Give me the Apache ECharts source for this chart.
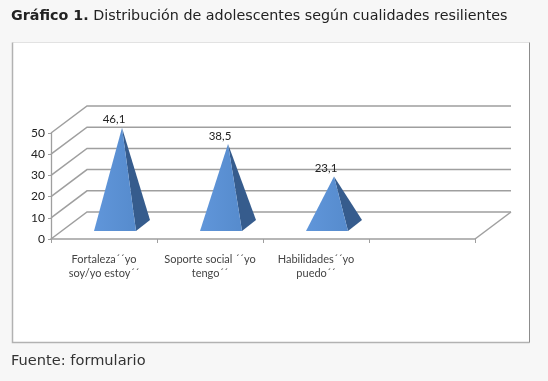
<!DOCTYPE html>
<html>
<head>
<meta charset="utf-8">
<style>
  html, body { margin: 0; padding: 0; background: #f7f7f7; }
  #chart { width: 548px; height: 381px; }
</style>
<script src="https://cdn.jsdelivr.net/npm/echarts@6/dist/echarts.min.js"></script>
</head>
<body>
<div id="chart"></div>
<script>
"use strict";
var categories = ["Fortaleza´´yo\nsoy/yo estoy´´", "Soporte social ´´yo\ntengo´´", "Habilidades´´yo\npuedo´´", ""];
var values = [46.1, 38.5, 23.1];
var valueLabels = ["46,1", "38,5", "23,1"];
var yTicks = [0, 10, 20, 30, 40, 50];

// fake 3d depth of the floor, in pixels
var depthX = 36;
var depthY = -27;
var lineColor = "#9f9f9f";
var labelFont = "Lato";

var myChart = echarts.init(document.getElementById("chart"), null, { renderer: "canvas" });

//walls: one line per tick, side wall then back wall
function renderWall(params, api) {
  var grid = params.coordSys;
  var v = api.value(0);
  var p = api.coord([0, v]);
  var left = grid.x;
  var right = grid.x + grid.width;
  var children = [];
  children.push({
    type: "polyline",
    shape: { points: [[left, p[1]], [left + depthX, p[1] + depthY], [right + depthX, p[1] + depthY]] },
    style: { stroke: lineColor, lineWidth: 1.5, fill: null }
  });
  if (v === 0) {
    children.push({
      type: "line",
      shape: { x1: right, y1: p[1], x2: right + depthX, y2: p[1] + depthY },
      style: { stroke: lineColor, lineWidth: 1.5 }
    });
  }
  return { type: "group", children: children };
}

//pyramids: front face and dark side face
function renderPyramid(params, api) {
  var i = api.value(0);
  var base = api.coord([i, 0]);
  var top = api.coord([i, api.value(1)]);
  var apex = [base[0] + 18, top[1] + depthY / 2];
  var frontLeft = [base[0] - 10, base[1] - 8];
  var frontRight = [base[0] + 32, base[1] - 8];
  var backRight = [base[0] + 46, base[1] - 19];
  return {
    type: "group",
    children: [
      {
        type: "polygon",
        shape: { points: [apex, frontRight, backRight] },
        style: { fill: "#365c8d" }
      },
      {
        type: "polygon",
        shape: { points: [apex, frontLeft, frontRight] },
        style: {
          fill: new echarts.graphic.LinearGradient(0, 0, 1, 0, [
            { offset: 0, color: "#6096da" },
            { offset: 1, color: "#568bcd" }
          ])
        }
      },
      {
        type: "text",
        style: {
          x: base[0] + 10,
          y: apex[1] - 8,
          text: valueLabels[i],
          align: "center",
          verticalAlign: "middle",
          font: "11.5px " + labelFont,
          fill: "#222222"
        }
      }
    ]
  };
}

var option = {
  animation: false,
  backgroundColor: "#f7f7f7",
  title: [
    {
      text: "{b|Gráfico 1.} Distribución de adolescentes según cualidades resilientes",
      left: 6,
      top: 4,
      textStyle: {
        rich: {
          b: { fontFamily: "DejaVu Sans", fontSize: 14.3, fontWeight: "bold", color: "#222222" }
        },
        fontFamily: "DejaVu Sans",
        fontSize: 14.3,
        fontWeight: "normal",
        color: "#222222"
      }
    },
    {
      text: "Fuente: formulario",
      left: 6,
      top: 349,
      textStyle: { fontFamily: "DejaVu Sans", fontSize: 14.6, fontWeight: "normal", color: "#333333" }
    }
  ],
  graphic: [
    {
      type: "rect",
      z: -1,
      shape: { x: 12, y: 42, width: 517, height: 300 },
      style: { fill: "#ffffff" }
    },
    {
      type: "polyline",
      z: -1,
      shape: { points: [[12.5, 42.5], [529.5, 42.5]] },
      style: { stroke: "#e2e2e2", lineWidth: 1, fill: null }
    },
    {
      type: "polyline",
      z: -1,
      shape: { points: [[12.5, 42.5], [12.5, 342.5], [529.5, 342.5]] },
      style: { stroke: "#b2b2b2", lineWidth: 1.5, fill: null }
    },
    {
      type: "polyline",
      z: -1,
      shape: { points: [[529.5, 42.5], [529.5, 342.5]] },
      style: { stroke: "#8c8c8c", lineWidth: 1, fill: null }
    }
  ],
  grid: { left: 51, top: 133, width: 424, height: 106, containLabel: false },
  xAxis: {
    type: "category",
    data: categories,
    axisLine: { lineStyle: { color: lineColor, width: 1.5 } },
    axisTick: { show: true, alignWithLabel: false, length: 4, lineStyle: { color: lineColor } },
    axisLabel: { interval: 0, margin: 13, color: "#444444", fontFamily: labelFont, fontSize: 11, lineHeight: 14 },
    splitLine: { show: false }
  },
  yAxis: {
    type: "value",
    min: 0,
    max: 50,
    interval: 10,
    axisLine: { show: true, lineStyle: { color: lineColor, width: 1.3 } },
    axisTick: { show: true, length: 3, lineStyle: { color: lineColor } },
    axisLabel: { margin: 6, color: "#222222", fontFamily: labelFont, fontSize: 12 },
    splitLine: { show: false }
  },
  series: [
    {
      type: "custom",
      renderItem: renderWall,
      data: yTicks.map(function (v) { return [v]; }),
      encode: { y: 0 },
      clip: false,
      silent: true,
      z: 1
    },
    {
      type: "custom",
      renderItem: renderPyramid,
      data: values.map(function (v, i) { return [i, v]; }),
      encode: { x: 0, y: 1 },
      clip: false,
      silent: true,
      z: 3
    }
  ]
};
myChart.setOption(option);
</script>
</body>
</html>
